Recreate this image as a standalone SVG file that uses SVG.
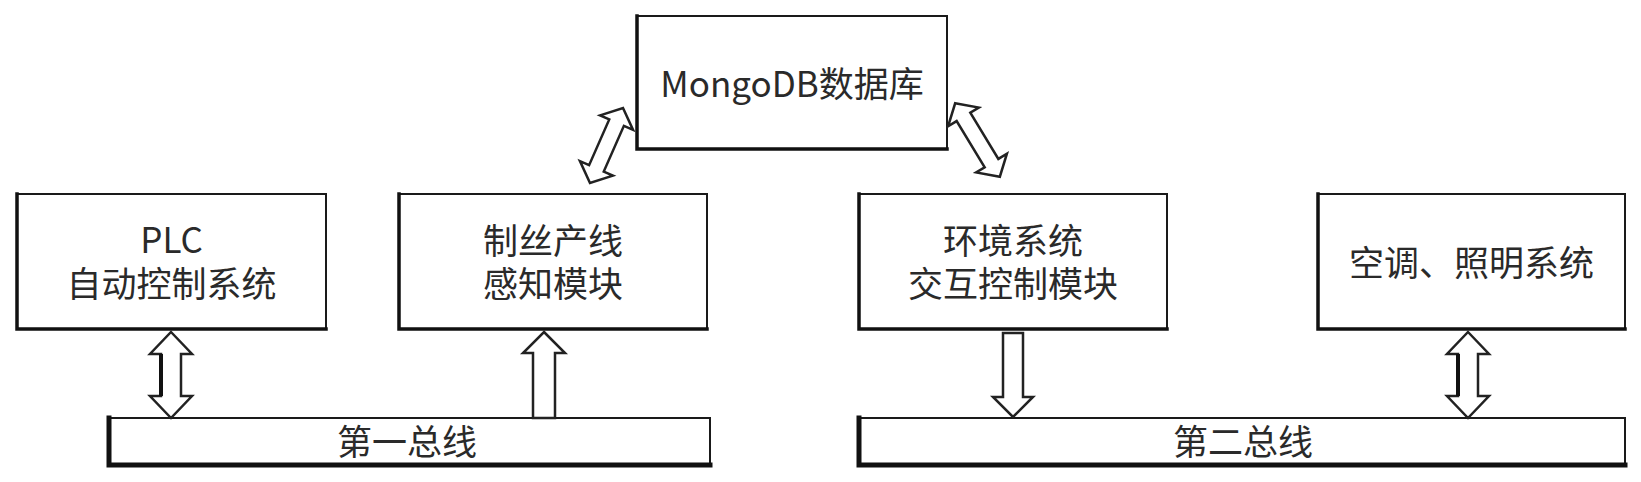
<svg xmlns="http://www.w3.org/2000/svg" width="1641" height="482" viewBox="0 0 1641 482">
<style>
.box{fill:#fff;stroke:#1a1a1a;stroke-width:2}
.sh{fill:none;stroke:#111;stroke-width:3.5;stroke-linecap:square}
.bsh{fill:none;stroke:#111;stroke-width:5;stroke-linecap:square}
.t{font-family:"Noto Sans CJK SC","Noto Sans",sans-serif;font-size:35px;fill:#2a2a2a;text-anchor:middle}
.ar{fill:#fff;stroke:#222;stroke-width:2.5;stroke-linejoin:miter}
.ed{fill:none;stroke:#111;stroke-width:4}
</style>
<rect width="1641" height="482" fill="#fff"/>
<g id="mongodb">
<rect class="box" x="637" y="16" width="310" height="133"/>
<path class="sh" d="M637,16 V149 H947"/>
<text class="t" x="792" y="97">MongoDB数据库</text>
</g>
<g id="plc">
<rect class="box" x="17" y="194" width="309" height="135"/>
<path class="sh" d="M17,194 V329 H326"/>
<text class="t" x="171.5" y="253">PLC</text>
<text class="t" x="171.5" y="297">自动控制系统</text>
</g>
<g id="sensor">
<rect class="box" x="399" y="194" width="308" height="135"/>
<path class="sh" d="M399,194 V329 H707"/>
<text class="t" x="553" y="254">制丝产线</text>
<text class="t" x="553" y="297">感知模块</text>
</g>
<g id="env">
<rect class="box" x="859" y="194" width="308" height="135"/>
<path class="sh" d="M859,194 V329 H1167"/>
<text class="t" x="1013" y="254">环境系统</text>
<text class="t" x="1013" y="297">交互控制模块</text>
</g>
<g id="hvac">
<rect class="box" x="1318" y="194" width="307" height="135"/>
<path class="sh" d="M1318,194 V329 H1625"/>
<text class="t" x="1471.5" y="276">空调、照明系统</text>
</g>
<g id="bus1">
<rect class="box" x="109" y="418" width="601" height="47"/>
<path class="bsh" d="M109,418 V465 H710"/>
<text class="t" x="407" y="455">第一总线</text>
</g>
<g id="bus2">
<rect class="box" x="859" y="418" width="766" height="47"/>
<path class="bsh" d="M859,418 V465 H1625"/>
<text class="t" x="1243" y="455">第二总线</text>
</g>
<g id="connectors">
<path class="ar" d="M-41,0 L-25,-18 L-25,-8 L25,-8 L25,-18 L41,0 L25,18 L25,8 L-25,8 L-25,18 Z" transform="translate(606.5,145.5) rotate(-66.25)"/>
<path class="ar" d="M-43,0 L-27,-18 L-27,-8 L27,-8 L27,-18 L43,0 L27,18 L27,8 L-27,8 L-27,18 Z" transform="translate(977.5,140) rotate(58.7)"/>
<path class="ar" d="M171,332 L192,354 L181,354 L181,396 L192,396 L171,418 L150,396 L161,396 L161,354 L150,354 Z"/>
<path class="ed" d="M161,354 V396"/>
<path class="ar" d="M544,332 L565,353 L555,353 L555,418 L533,418 L533,353 L523,353 Z"/>
<path class="ar" d="M1003,333 L1023,333 L1023,397 L1033,397 L1013,417 L993,397 L1003,397 Z"/>
<path class="ar" d="M1468,332 L1489,354 L1478,354 L1478,396 L1489,396 L1468,418 L1447,396 L1458,396 L1458,354 L1447,354 Z"/>
<path class="ed" d="M1458,354 V396"/>
</g>
</svg>
